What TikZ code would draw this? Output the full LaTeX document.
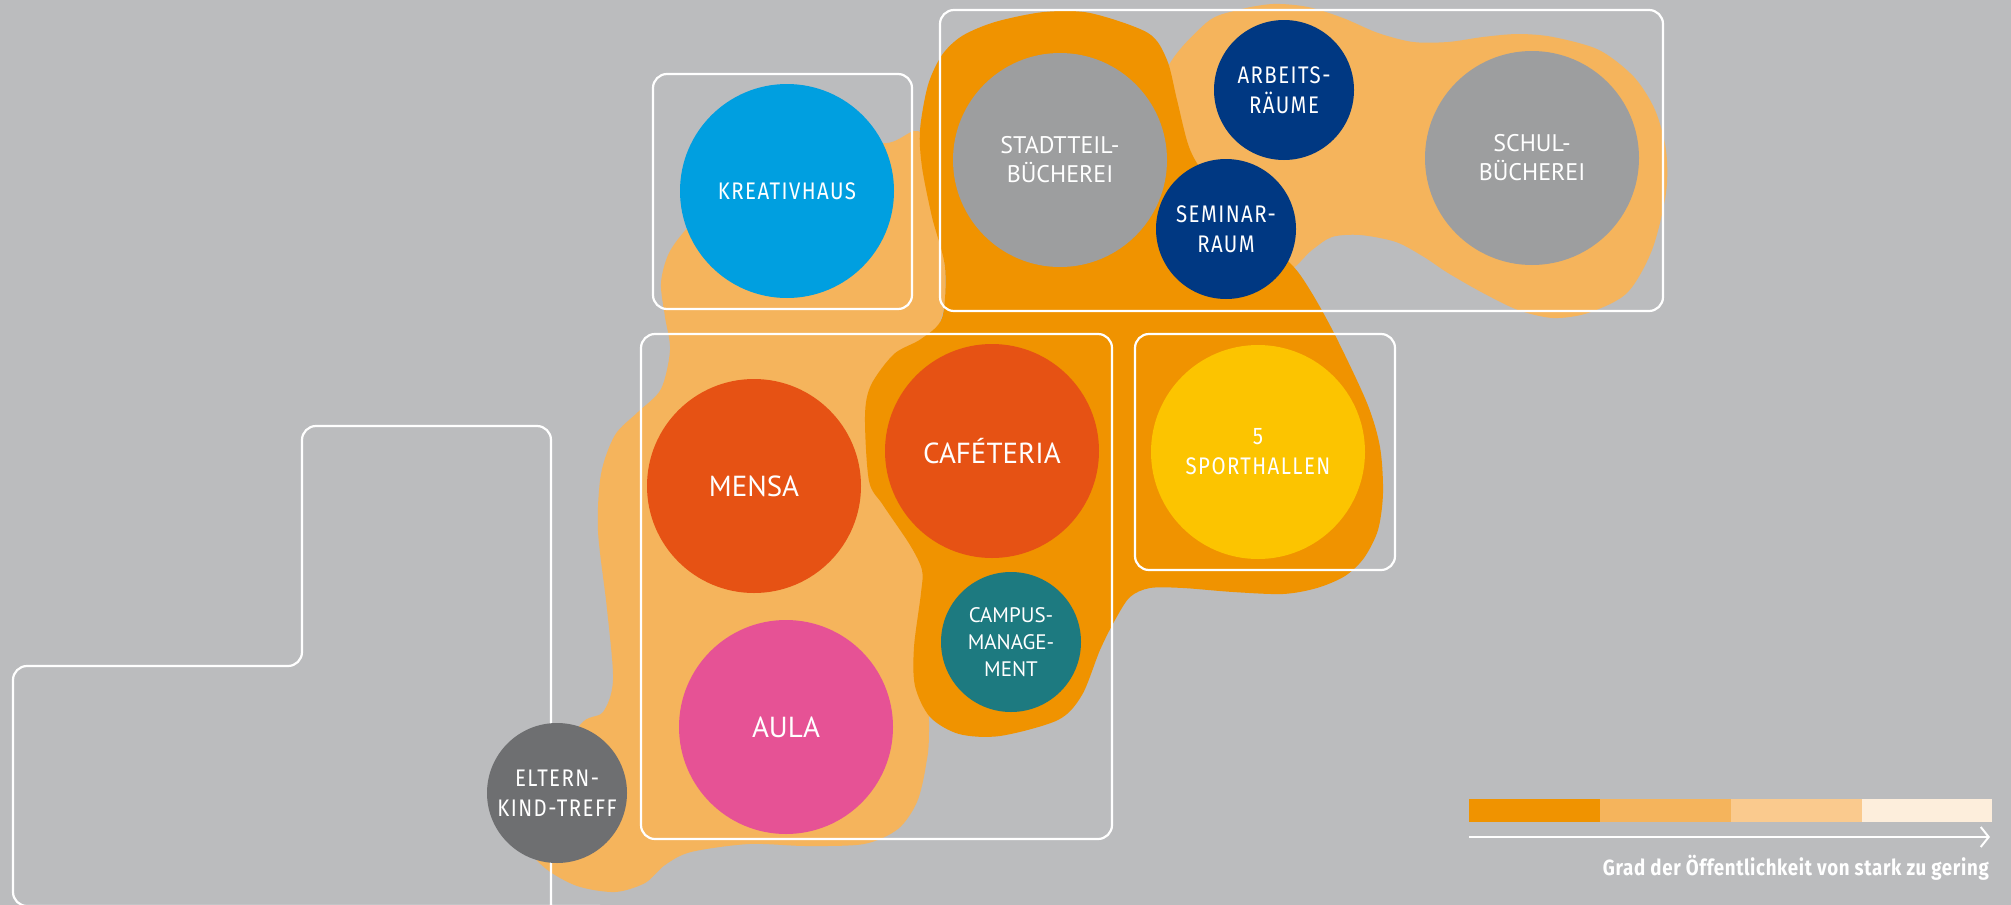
\documentclass[tikz,border=0pt]{standalone}
\usepackage{fontspec}
\setmainfont{PT Sans}
\newfontfamily\dinfont[FakeStretch=0.85,LetterSpace=6]{Fira Sans}
\newfontfamily\legendfont[FakeStretch=0.85,LetterSpace=3]{Fira Sans}
\usetikzlibrary{arrows.meta}

\definecolor{bggray}{HTML}{BBBCBE}
\definecolor{strongorange}{HTML}{F09300}
\definecolor{midorange}{HTML}{F5B45C}
\definecolor{paleorange}{HTML}{FACA8E}
\definecolor{faintorange}{HTML}{FDEEDC}
\definecolor{kreativblue}{HTML}{009FE0}
\definecolor{librarygray}{HTML}{9D9E9F}
\definecolor{roomnavy}{HTML}{003882}
\definecolor{foodred}{HTML}{E65214}
\definecolor{campusteal}{HTML}{1D7A80}
\definecolor{aulapink}{HTML}{E65295}
\definecolor{sportyellow}{HTML}{FCC400}
\definecolor{familygray}{HTML}{6E6F71}

\begin{document}
\begin{tikzpicture}[x=1pt,y=-1pt,
    spot/.style={circle, inner sep=0pt, text=white, align=center},
    bigspot/.style={spot, minimum size=214pt},
    smallspot/.style={spot, minimum size=140pt},
    dinlabel/.style={font=\dinfont\fontsize{24}{30}\selectfont},
    sanslabel/.style={font=\fontsize{24}{29}\selectfont},
    biglabel/.style={font=\fontsize{29}{33}\selectfont},
    groupbox/.style={draw=white, line width=2.2pt, rounded corners=14pt, inner sep=0pt},
    legendbar/.style={minimum width=130.5pt, minimum height=23pt, inner sep=0pt, anchor=west}
    ]

    \useasboundingbox[fill=bggray] (0,0) rectangle (2011,905);

    % zones of publicity
    \fill[midorange] plot[smooth cycle] coordinates {
        (887,143) (925,140) (945,300) (900,420) (925,560) (929,724)
        (926,765) (917,802) (898,829) (864,844) (806,846) (749,844)
        (691,852) (665,865) (645,883) (615,892) (577,886) (545,868)
        (530,845) (545,790) (580,725) (603,712) (613,680) (607,609)
        (598,531) (601,474) (615,435) (638,412) (661,389) (670,350)
        (665,317) (661,283) (669,253) (690,225) (740,175) (800,150)};
    \fill[midorange] plot[smooth cycle] coordinates {
        (1165,75) (1206,23) (1238,10) (1273,4) (1308,7) (1343,18)
        (1378,33) (1413,42) (1448,42) (1483,37) (1518,34) (1553,37)
        (1599,50) (1634,77) (1655,110) (1666,150) (1666,193) (1652,250)
        (1627,293) (1588,313) (1553,318) (1518,310) (1483,293) (1448,273)
        (1424,257) (1396,242) (1360,235) (1332,237) (1312,250) (1280,275)
        (1230,250) (1180,150)};
    \fill[strongorange] plot[smooth cycle] coordinates {
        (995,22) (1044,12) (1090,13) (1148,33) (1167,60) (1177,100)
        (1189,147) (1205,175) (1245,225) (1290,263) (1310,290) (1335,335)
        (1367,403) (1380,447) (1383,493) (1378,530) (1364,558) (1345,576)
        (1317,588) (1283,594) (1233,592) (1183,588) (1150,588) (1130,597)
        (1115,620) (1100,650) (1082,695) (1058,720) (1000,736) (959,734)
        (930,717) (915,686) (914,647) (921,593) (922,570) (910,545)
        (883,505) (869,481) (865,416) (871,385) (894,354) (921,339)
        (942,318) (945,267) (932,217) (922,167) (920,130) (928,85)
        (942,55) (962,36)};

    % groups
    \node[groupbox, minimum width=259pt, minimum height=235pt] (kreativbox) at (782.5,191.5) {};
    \node[groupbox, minimum width=723pt, minimum height=301pt] (librarybox) at (1301.5,160.5) {};
    \node[groupbox, minimum width=471pt, minimum height=505pt] (mensabox) at (876.5,586.5) {};
    \node[groupbox, minimum width=260pt, minimum height=236pt] (sportbox) at (1265,452) {};
    \draw[white, line width=2.2pt, rounded corners=14pt]
        (551,930) -- (551,426) -- (302,426) -- (302,666) -- (13,666) -- (13,906) -- (600,906);

    % places
    \node[bigspot, fill=kreativblue, dinlabel] (kreativ) at (787,191) {KREATIVHAUS};
    \node[bigspot, fill=librarygray, sanslabel] (stadtteil) at (1060,160) {STADTTEIL-\\BÜCHEREI};
    \node[smallspot, fill=roomnavy, dinlabel] (arbeit) at (1284,90) {ARBEITS-\\RÄUME};
    \node[smallspot, fill=roomnavy, dinlabel] (seminar) at (1226,229) {SEMINAR-\\RAUM};
    \node[bigspot, fill=librarygray, sanslabel] (schule) at (1532,158) {SCHUL-\\BÜCHEREI};
    \node[bigspot, fill=foodred, biglabel] (mensa) at (754,486) {MENSA};
    \node[bigspot, fill=foodred, biglabel] (cafe) at (992,451) {CAFÉTERIA};
    \node[smallspot, fill=campusteal, font=\fontsize{21}{27}\selectfont] (campus) at (1011,642) {CAMPUS-\\MANAGE-\\MENT};
    \node[bigspot, fill=aulapink, biglabel] (aula) at (786,727) {AULA};
    \node[bigspot, fill=sportyellow, dinlabel] (sport) at (1258,452) {5\\SPORTHALLEN};
    \node[smallspot, fill=familygray, dinlabel] (eltern) at (557,793) {ELTERN-\\KIND-TREFF};

    % legend
    \node[legendbar, fill=strongorange] (lvlone) at (1469,810) {};
    \node[legendbar, fill=midorange] (lvltwo) at (lvlone.east) {};
    \node[legendbar, fill=paleorange] (lvlthree) at (lvltwo.east) {};
    \node[legendbar, fill=faintorange] (lvlfour) at (lvlthree.east) {};
    \coordinate (scalestart) at (1469,837);
    \coordinate (scaleend) at (1990,837);
    \draw[white, line width=2pt, -{Straight Barb[length=8pt,width=20pt]}] (scalestart) -- (scaleend);
    \node[anchor=base east, inner sep=0pt, text=white, font=\legendfont\bfseries\fontsize{22}{26}\selectfont] (scaletext)
        at (1989,875) {Grad der Öffentlichkeit von stark zu gering};

\end{tikzpicture}
\end{document}
